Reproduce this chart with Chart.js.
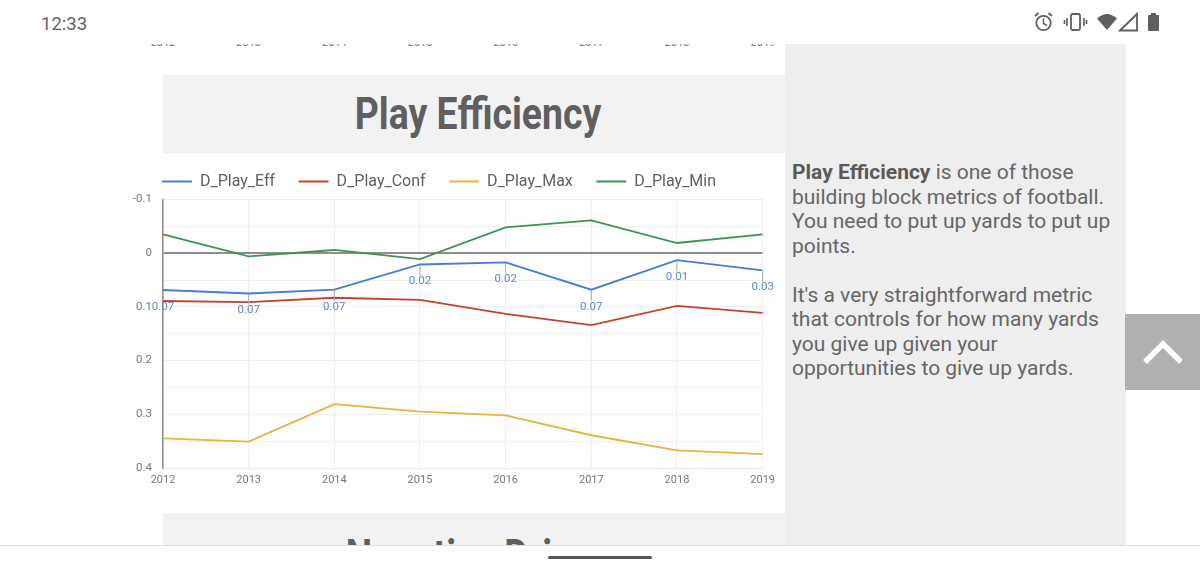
<!DOCTYPE html>
<html>
<head>
<meta charset="utf-8">
<title>Play Efficiency</title>
<script src="https://cdn.jsdelivr.net/npm/chart.js@4"></script>
<style>
  html, body { margin: 0; padding: 0; background: #fff; }
  body { width: 1200px; height: 568px; position: relative; overflow: hidden; font-family: Roboto, sans-serif; color: #5f5f5f; }
  .box { position: absolute; }
  #page { left: 0; top: 44px; width: 1200px; height: 501px; overflow: hidden; }
  #sidebar { left: 785px; top: 0; width: 341px; height: 501px; background: #eee; }
  #band1 { left: 163px; top: 31px; width: 622px; height: 78px; background: #f2f2f2; }
  #band2 { left: 163px; top: 469px; width: 622px; height: 60px; background: #f2f2f2; }
  h2 { position: absolute; left: 4px; width: 100%; margin: 0; text-align: center; font-size: 44px; font-weight: 700; line-height: 78px; transform: scaleX(0.85); }
  #band2 h2 { top: 4px; }
  #prev span { position: absolute; top: -9px; width: 40px; margin-left: -20px; text-align: center; font-size: 11px; color: #777; line-height: 16px; }
  #chartBox { left: 105px; top: 106px; width: 676px; height: 342px; }
  #copy { left: 7px; top: 116px; width: 330px; font-size: 21px; line-height: 24.5px; color: #666; white-space: nowrap; }
  #copy b { color: #5a5a5a; }
  #up { left: 1125px; top: 270px; width: 75px; height: 76px; background: #b0b0b0; }
  #clock { left: 41px; top: 11px; font-size: 18.5px; line-height: 26px; color: #5f6368; }
  #navline { left: 0; top: 545px; width: 1200px; height: 1px; background: #ddd; }
  #handle { left: 548px; top: 556px; width: 104px; height: 3px; border-radius: 2px; background: #555; }
</style>
</head>
<body>
<div class="box" id="clock">12:33</div>
<svg class="box" style="left:1030px;top:10px" width="140" height="24" viewBox="0 0 140 24" fill="#5f5f5f">
  <circle cx="13.5" cy="13" r="7.2" fill="none" stroke="#5f5f5f" stroke-width="1.8"/>
  <path d="M13.5 8.5v5l3.5 2" fill="none" stroke="#5f5f5f" stroke-width="1.5"/>
  <path d="M5 6l3.5-3M22 6l-3.5-3" stroke="#5f5f5f" stroke-width="1.8"/>
  <rect x="41" y="4" width="9" height="16" rx="1.5" fill="none" stroke="#5f5f5f" stroke-width="1.8"/>
  <path d="M37 8v8M54 8v8M34.5 10v4M56.5 10v4" stroke="#5f5f5f" stroke-width="1.6"/>
  <path d="M67 8.5Q77 -0.5 87 8.5L77 20Z"/>
  <path d="M90 20.5L107 4V20.5Z" fill="none" stroke="#5f5f5f" stroke-width="1.8"/>
  <rect x="118" y="5" width="11" height="16" rx="1"/>
  <rect x="121" y="3" width="5" height="2"/>
</svg>

<div class="box" id="page">
  <div class="box" id="prev"></div>
  <div class="box" id="band1"><h2>Play Efficiency</h2></div>
  <div class="box" id="band2"><h2>Negative Drives</h2></div>
  <div class="box" id="sidebar">
    <div class="box" id="copy"><b>Play Efficiency</b> is one of those<br>building block metrics of football.<br>You need to put up yards to put up<br>points.<br><br>It's a very straightforward metric<br>that controls for how many yards<br>you give up given your<br>opportunities to give up yards.</div>
  </div>
  <div class="box" id="chartBox"><canvas id="playChart" width="676" height="342"></canvas></div>
  <div class="box" id="up">
    <svg width="75" height="76"><path d="M20 48L38 30L56 48" fill="none" stroke="#fff" stroke-width="5.5"/></svg>
  </div>
</div>
<div class="box" id="navline"></div>
<div class="box" id="handle"></div>

<script>
const years = ['2012', '2013', '2014', '2015', '2016', '2017', '2018', '2019'];
const playEff = [0.0685, 0.075, 0.068, 0.021, 0.017, 0.068, 0.013, 0.032];
const playConf = [0.089, 0.091, 0.083, 0.087, 0.113, 0.134, 0.098, 0.111];
const playMax = [0.345, 0.351, 0.281, 0.295, 0.302, 0.339, 0.367, 0.374];
const playMin = [-0.035, 0.006, -0.006, 0.011, -0.048, -0.061, -0.019, -0.035];
const effLabels = ['0.07', '0.07', '0.07', '0.02', '0.02', '0.07', '0.01', '0.03'];
const yTicks = [-0.1, -0.05, 0, 0.05, 0.1, 0.15, 0.2, 0.25, 0.3, 0.35, 0.4];
const yTickLabels = ['-0.1', '', '0', '', '0.1', '', '0.2', '', '0.3', '', '0.4'];

// clipped axis of the previous chart, scrolled off under the status bar
const prev = document.getElementById('prev');
years.forEach((y, i) => {
  const s = document.createElement('span');
  s.textContent = y;
  s.style.left = (163 + i * 85.7) + 'px';
  prev.appendChild(s);
});

// Leader ticks and value labels under the D_Play_Eff points
const effLabelPlugin = {
  id: 'effLabels',
  afterDatasetsDraw(chart) {
    const { ctx } = chart;
    const points = chart.getDatasetMeta(0).data;
    ctx.save();
    ctx.font = '11.5px Roboto';
    ctx.textAlign = 'center';
    ctx.textBaseline = 'middle';
    points.forEach((p, i) => {
      ctx.strokeStyle = '#aaa';
      ctx.lineWidth = 1;
      ctx.beginPath();
      ctx.moveTo(p.x, p.y + 1);
      ctx.lineTo(p.x, p.y + 11);
      ctx.stroke();
      ctx.fillStyle = '#5f83dc';
      ctx.fillText(effLabels[i], p.x, p.y + 17);
    });
    ctx.restore();
  }
};

const lineSet = (label, data, color) => ({
  label,
  data,
  borderColor: color,
  backgroundColor: color,
  borderWidth: 1.8,
  pointRadius: 0,
  tension: 0
});

new Chart(document.getElementById('playChart'), {
  type: 'line',
  data: {
    labels: years,
    datasets: [
      lineSet('D_Play_Eff', playEff, '#4a79d8'),
      lineSet('D_Play_Conf', playConf, '#c5412f'),
      lineSet('D_Play_Max', playMax, '#e6b33e'),
      lineSet('D_Play_Min', playMin, '#3f9159')
    ]
  },
  plugins: [effLabelPlugin],
  options: {
    responsive: false,
    animation: false,
    layout: { padding: { right: 8, bottom: 0 } },
    plugins: {
      tooltip: { enabled: false },
      legend: {
        position: 'top',
        labels: {
          boxWidth: 30,
          boxHeight: 0,
          padding: 23.5,
          color: '#5f5f5f',
          font: { family: 'Roboto', size: 16 }
        }
      }
    },
    scales: {
      x: {
        offset: false,
        grid: { color: '#eeeeee', drawTicks: false },
        border: { color: '#e6e6e6' },
        ticks: { color: '#777', font: { family: 'Roboto', size: 11 }, padding: 6, maxRotation: 0, autoSkip: false },
        afterFit: (scale) => { scale.height = 24; }
      },
      y: {
        reverse: true,
        min: -0.1,
        max: 0.4,
        grid: {
          drawTicks: false,
          lineWidth: (c) => (c.tick && c.tick.value === 0 ? 2 : 1),
          color: (c) => (c.tick && c.tick.value === 0 ? '#8e8e8e' : '#eeeeee')
        },
        border: { color: '#8e8e8e', width: 1.5 },
        afterBuildTicks: (scale) => { scale.ticks = yTicks.map(v => ({ value: v })); },
        ticks: {
          color: '#777',
          font: { family: 'Roboto', size: 11.5 },
          padding: 11,
          autoSkip: false,
          callback: (value) => yTickLabels[yTicks.indexOf(value)]
        },
        afterFit: (scale) => { scale.width = 58; }
      }
    }
  }
});
</script>
</body>
</html>
